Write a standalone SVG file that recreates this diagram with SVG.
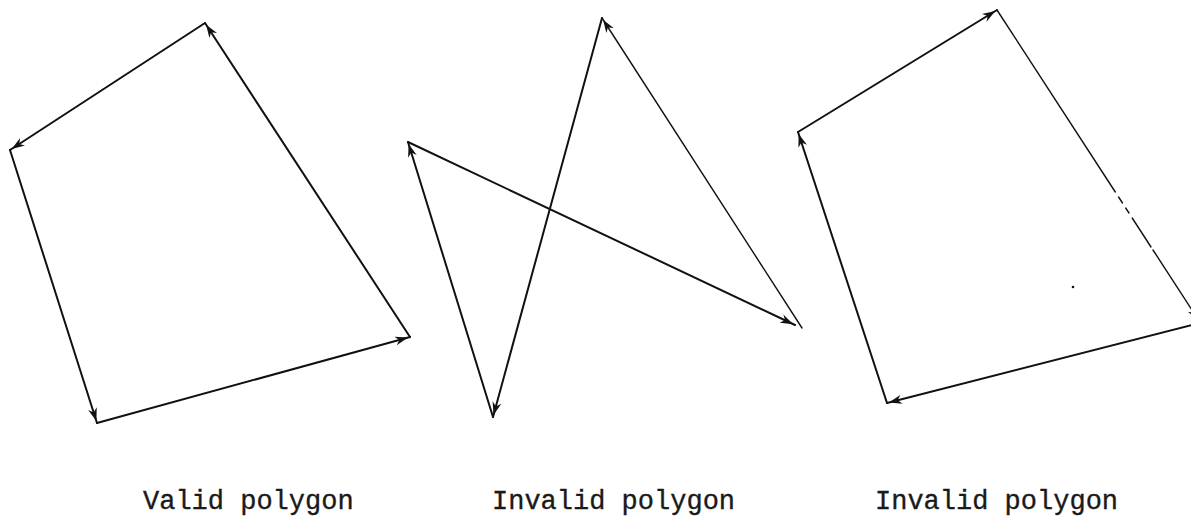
<svg xmlns="http://www.w3.org/2000/svg" width="1191" height="520" viewBox="0 0 1191 520">
  <style>
    .edge { fill: none; stroke: #111; stroke-width: 2; stroke-linecap: round; }
    .thin { stroke-width: 1.4; }
    .arr { marker-end: url(#arrow); }
    .label { font-family: "Liberation Mono", "DejaVu Sans Mono", monospace; font-size: 27px; fill: #1a1a1a; stroke: #1a1a1a; stroke-width: 0.35; }
  </style>
  <defs>
    <marker id="arrow" markerUnits="userSpaceOnUse" viewBox="0 0 13 10" refX="15" refY="5" markerWidth="13" markerHeight="10" orient="auto">
      <path d="M0,0.5 L13,5 L0,9.5 L4,5 Z" fill="#111"/>
    </marker>
  </defs>
  <rect width="1191" height="520" fill="#fff"/>

  <g id="connectors">
    <!-- Polygon 1 (valid) -->
    <g id="poly1-edges">
      <line class="edge arr" x1="205" y1="23" x2="10" y2="150"/>
      <line class="edge arr" x1="10" y1="150" x2="97" y2="423"/>
      <line class="edge arr" x1="97" y1="423" x2="410" y2="337"/>
      <line class="edge arr" x1="410" y1="337" x2="205" y2="23"/>
    </g>
    <!-- Polygon 2 (self-intersecting) -->
    <g id="poly2-edges">
      <line class="edge arr" x1="408" y1="142" x2="795" y2="325"/>
      <line class="edge thin arr" x1="802" y1="328" x2="602" y2="18"/>
      <line class="edge arr" x1="602" y1="18" x2="493" y2="417"/>
      <line class="edge arr" x1="493" y1="417" x2="408" y2="142"/>
    </g>
    <!-- Polygon 3 (invalid) -->
    <g id="poly3-edges">
      <line class="edge arr" x1="798" y1="132" x2="997" y2="10"/>
      <line class="edge thin" x1="997" y1="10" x2="1115.3" y2="192"/>
      <line class="edge thin" x1="1118.6" y1="197" x2="1122.5" y2="203"/>
      <line class="edge thin" x1="1125.7" y1="208" x2="1129" y2="213"/>
      <line class="edge thin" x1="1132.2" y1="218" x2="1151" y2="247"/>
      <line class="edge thin arr" x1="1153" y1="250" x2="1199.8" y2="322"/>
      <line class="edge arr" x1="1200" y1="323" x2="887" y2="403"/>
      <line class="edge arr" x1="887" y1="403" x2="798" y2="132"/>
    </g>
  </g>

  <circle cx="1073" cy="287" r="1.3" fill="#111"/>

  <g id="label-valid">
    <text class="label" x="143" y="509">Valid polygon</text>
  </g>
  <g id="label-invalid-1">
    <text class="label" x="492" y="509">Invalid polygon</text>
  </g>
  <g id="label-invalid-2">
    <text class="label" x="875" y="509">Invalid polygon</text>
  </g>
</svg>
